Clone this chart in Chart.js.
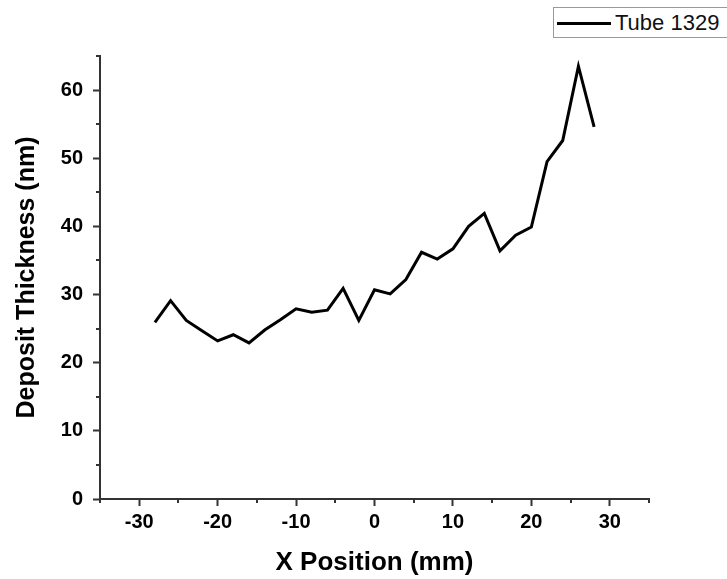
<!DOCTYPE html>
<html>
<head>
<meta charset="utf-8">
<script src="https://cdn.jsdelivr.net/npm/chart.js@4/dist/chart.umd.min.js"></script>
<style>
  html, body { margin:0; padding:0; background:#fff; overflow:hidden; }
  #wrap { position:relative; width:727px; height:579px; }
  #legend { position:absolute; left:553px; top:7px; width:190px; height:31px; border:1px solid #9a9a9a; background:#fff;
            font-family:"Liberation Sans", Arial, sans-serif; font-size:22px; color:#111; box-sizing:border-box; }
  #legend .ln { position:absolute; left:3px; top:14px; width:54px; height:3px; background:#000; }
  #legend .tx { position:absolute; left:61px; top:2px; line-height:25px; white-space:nowrap; }
</style>
</head>
<body>
<div id="wrap">
  <canvas id="c" width="727" height="579"></canvas>
  <div id="legend"><span class="ln"></span><span class="tx" id="legendText"></span></div>
</div>
<script>
// ---- data ----
const seriesName = "Tube 1329";
const xPositions = [-28, -26, -24, -22, -20, -18, -16, -14, -12, -10, -8, -6, -4, -2, 0, 2, 4, 6, 8, 10, 12, 14, 16, 18, 20, 22, 24, 26, 28];
const thickness = [25.9, 29.1, 26.2, 24.7, 23.2, 24.1, 22.9, 24.8, 26.3, 27.9, 27.4, 27.7, 30.9, 26.2, 30.7, 30.1, 32.2, 36.2, 35.2, 36.7, 40.0, 41.9, 36.4, 38.7, 39.9, 49.5, 52.6, 63.5, 54.6];
const xMajorTicks = [-30, -20, -10, 0, 10, 20, 30];
const xMinorTicks = [-35, -25, -15, -5, 5, 15, 25, 35];
const yMajorTicks = [0, 10, 20, 30, 40, 50, 60];
const yMinorTicks = [5, 15, 25, 35, 45, 55, 65];
const xTitle = "X Position (mm)";
const yTitle = "Deposit Thickness (nm)";

document.getElementById('legendText').textContent = seriesName;

const axisColor = '#333';
const FONT = '"Liberation Sans", Arial, sans-serif';

const minorTicks = {
  id: 'minorTicks',
  afterDraw(chart) {
    const ctx = chart.ctx;
    const xs = chart.scales.x, ys = chart.scales.y;
    ctx.save();
    ctx.strokeStyle = axisColor;
    ctx.lineWidth = 2;
    ctx.beginPath();
    xMinorTicks.forEach(v => {
      const px = Math.round(xs.getPixelForValue(v));
      ctx.moveTo(px, xs.top); ctx.lineTo(px, xs.top + 4);
    });
    yMinorTicks.forEach(v => {
      const py = Math.round(ys.getPixelForValue(v));
      ctx.moveTo(ys.right - 4, py); ctx.lineTo(ys.right, py);
    });
    ctx.stroke();
    ctx.restore();
  }
};

new Chart(document.getElementById('c'), {
  type: 'line',
  data: {
    datasets: [{
      label: seriesName,
      data: xPositions.map((x, i) => ({ x: x, y: thickness[i] })),
      borderColor: '#000',
      borderWidth: 3,
      pointRadius: 0,
      tension: 0,
      fill: false
    }]
  },
  options: {
    responsive: false,
    animation: false,
    layout: { padding: { top: 56, right: 78, left: 0, bottom: 0 } },
    plugins: { legend: { display: false }, tooltip: { enabled: false } },
    scales: {
      x: {
        type: 'linear',
        min: -35, max: 35,
        afterBuildTicks: s => { s.ticks = xMajorTicks.map(v => ({ value: v })); },
        afterFit: s => { s.height = 80; },
        grid: { drawOnChartArea: false, tickLength: 7, tickColor: axisColor, tickWidth: 2 },
        border: { color: axisColor, width: 2 },
        ticks: { color: '#000', font: { family: FONT, size: 20, weight: 'bold' }, padding: 4, maxRotation: 0, autoSkip: false },
        title: { display: true, text: xTitle, color: '#000', font: { family: FONT, size: 26, weight: 'bold' }, padding: { top: 0, bottom: 1 } }
      },
      y: {
        type: 'linear',
        min: 0, max: 65,
        afterBuildTicks: s => { s.ticks = yMajorTicks.map(v => ({ value: v })); },
        afterFit: s => { s.width = 100; },
        grid: { drawOnChartArea: false, tickLength: 7, tickColor: axisColor, tickWidth: 2 },
        border: { color: axisColor, width: 2 },
        ticks: { color: '#000', font: { family: FONT, size: 20, weight: 'bold' }, padding: 10, autoSkip: false },
        title: { display: true, text: yTitle, color: '#000', font: { family: FONT, size: 25, weight: 'bold' }, padding: { top: 12, bottom: 0 } }
      }
    }
  },
  plugins: [minorTicks]
});
</script>
</body>
</html>
